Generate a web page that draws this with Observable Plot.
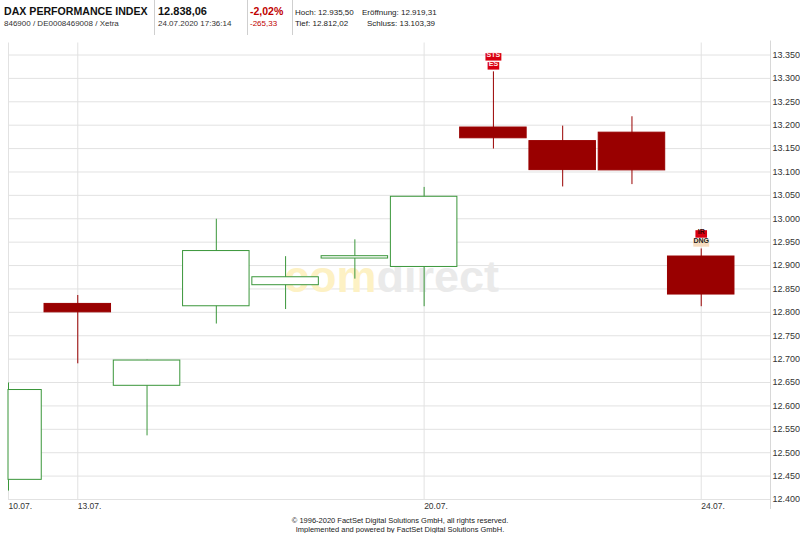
<!DOCTYPE html>
<html>
<head>
<meta charset="utf-8">
<script src="https://cdn.jsdelivr.net/npm/d3@7"></script>
<script src="https://cdn.jsdelivr.net/npm/@observablehq/plot@0.6"></script>
<style>
  body { margin:0; width:800px; height:533px; position:relative; background:#fff; font-family:"Liberation Sans", Arial, sans-serif; overflow:hidden; }
  .t { position:absolute; white-space:nowrap; color:#111; }
  .sep { position:absolute; top:0; width:1px; height:35px; background:#cfcfcf; }
  #chart { position:absolute; left:0; top:40px; }
  #footer { position:absolute; left:0; width:800px; top:516px; text-align:center; font-size:7.5px; line-height:9px; color:#222; }
</style>
</head>
<body>
<div class="t" style="left:4px;top:5px;font-size:10.6px;font-weight:bold;line-height:13px;">DAX PERFORMANCE INDEX</div>
<div class="t" style="left:4px;top:19px;font-size:8px;line-height:10px;color:#333;">846900 / DE0008469008 / Xetra</div>
<div class="sep" style="left:154px;"></div>
<div class="t" style="left:158px;top:5px;font-size:11px;font-weight:bold;line-height:13px;">12.838,06</div>
<div class="t" style="left:158px;top:19px;font-size:8px;line-height:10px;color:#333;">24.07.2020 17:36:14</div>
<div class="sep" style="left:247px;"></div>
<div class="t" style="left:250px;top:5px;font-size:10.5px;font-weight:bold;line-height:13px;color:#c00000;">-2,02%</div>
<div class="t" style="left:250px;top:19px;font-size:8px;line-height:10px;color:#c00000;">-265,33</div>
<div class="sep" style="left:292px;"></div>
<div class="t" style="left:295px;top:8px;font-size:8px;line-height:10px;color:#222;">Hoch: 12.935,50</div>
<div class="t" style="left:362px;top:8px;font-size:8px;line-height:10px;color:#222;">Eröffnung: 12.919,31</div>
<div class="t" style="left:295px;top:19px;font-size:8px;line-height:10px;color:#222;">Tief: 12.812,02</div>
<div class="t" style="left:367px;top:19px;font-size:8px;line-height:10px;color:#222;">Schluss: 13.103,39</div>
<div id="chart"></div>
<div id="footer">© 1996-2020 FactSet Digital Solutions GmbH, all rights reserved.<br>Implemented and powered by FactSet Digital Solutions GmbH.</div>
<script>
// ---- data ----
const dates = ["10.07.","13.07.","14.07.","15.07.","16.07.","17.07.","20.07.","21.07.","22.07.","23.07.","24.07."];
const open  = [12442, 12818, 12643, 12813, 12858, 12915, 12897, 13195, 13166, 13184, 12919.31];
const high  = [12649, 12836, 12698, 12999, 12919, 12955, 13067, 13314, 13198, 13218, 12935.50];
const low   = [12418, 12690, 12536, 12775, 12806, 12871, 12812, 13149, 13068, 13073, 12812.02];
const close = [12634, 12800, 12697, 12931, 12875, 12920, 13047, 13172, 13104, 13103.39, 12838.06];
const xTickLabels = ["10.07.","13.07.","20.07.","24.07."];
const yTicks = d3.range(12400, 13351, 50);
const eventDates  = ["21.07.","21.07.","24.07.","24.07."];
const eventLabels = ["ES","STS","DNG","IR"];
const eventLevel  = [0, 1, 0, 1];

// ---- derived ----
const GREEN = "#3a963a", RED = "#990000";
const rows = dates.map((d, i) => ({i, date: d, open: open[i], high: high[i], low: low[i], close: close[i], up: close[i] >= open[i]}));
const xTicks = xTickLabels.map(l => dates.indexOf(l));
const events = eventLabels.map((l, k) => {
  const i = dates.indexOf(eventDates[k]);
  return {i, label: l, level: eventLevel[k], high: high[i]};
});
const boxColor = {ES: "#d80010", STS: "#d80010", IR: "#d80010", DNG: "#f6dcc0"};
const txtColor = {ES: "#ffe8e8", STS: "#ffe8e8", IR: "#3a0000", DNG: "#222"};
const fmt = v => d3.format(",")(v).replace(/,/g, ".");

const chart = Plot.plot({
  width: 800, height: 475,
  marginLeft: 8, marginRight: 30, marginTop: 14.5, marginBottom: 16,
  style: {fontFamily: "Liberation Sans, Arial, sans-serif", color: "#333", background: "transparent"},
  x: {domain: [0, 11], axis: null},
  y: {domain: [12400, 13350], axis: null},
  marks: [
    Plot.gridY(yTicks, {stroke: "#e2e2e2", strokeOpacity: 1}),
    Plot.ruleX(xTicks, {stroke: "#e2e2e2", insetTop: -12}),
    Plot.ruleX([11], {stroke: "#d8d8d8", insetTop: -14, insetBottom: -10}),
    Plot.text(["com"], {frameAnchor: "middle", dx: -13, dy: 0, textAnchor: "end", fontSize: 45, fontWeight: "bold", fill: "#fdf1c4"}),
    Plot.text(["direct"], {frameAnchor: "middle", dx: -13, dy: 0, textAnchor: "start", fontSize: 45, fontWeight: "bold", fill: "#eaeaea"}),
    Plot.axisY(yTicks, {anchor: "right", label: null, tickSize: 0, tickPadding: 2, tickFormat: fmt, fontSize: 9, fill: "#333"}),
    Plot.axisX(xTicks, {anchor: "bottom", label: null, tickSize: 0, tickPadding: 3, textAnchor: "start", tickFormat: i => dates[i], fontSize: 8.5, fill: "#333"}),
    Plot.ruleX(rows, {x: "i", y1: "low", y2: "high", stroke: d => d.up ? GREEN : RED, strokeWidth: 1}),
    Plot.rect(rows, {
      x1: d => Math.max(0, d.i - 0.48), x2: d => d.i + 0.48,
      y1: "open", y2: "close",
      fill: d => d.up ? "#ffffff" : RED,
      stroke: d => d.up ? GREEN : RED, strokeWidth: 1
    }),
    Plot.text(events, {
      x: "i", y: "high", text: "label",
      fontSize: 7, fontWeight: "bold",
      fill: d => txtColor[d.label],
      render: (index, scales, values, dims, context, next) => {
        const g = next(index, scales, values, dims, context);
        const NS = "http://www.w3.org/2000/svg";
        d3.select(g).selectAll("text").each(function(_, k) {
          const e = events[index[k]];
          const off = e.level === 0 ? -6 : -15;
          const t = d3.select(this);
          const x = +t.attr("x") || 0;
          const y = (+t.attr("y") || 0) + off;
          t.attr("y", y);
          const w = e.label.length * 4.3 + 3, h = 7.5;
          const r = document.createElementNS(NS, "rect");
          r.setAttribute("x", x - w / 2);
          r.setAttribute("y", y - h / 2);
          r.setAttribute("width", w);
          r.setAttribute("height", h);
          r.setAttribute("fill", boxColor[e.label]);
          if (t.attr("transform")) r.setAttribute("transform", t.attr("transform"));
          this.parentNode.insertBefore(r, this);
        });
        return g;
      }
    })
  ]
});
document.getElementById("chart").appendChild(chart);
</script>
</body>
</html>
